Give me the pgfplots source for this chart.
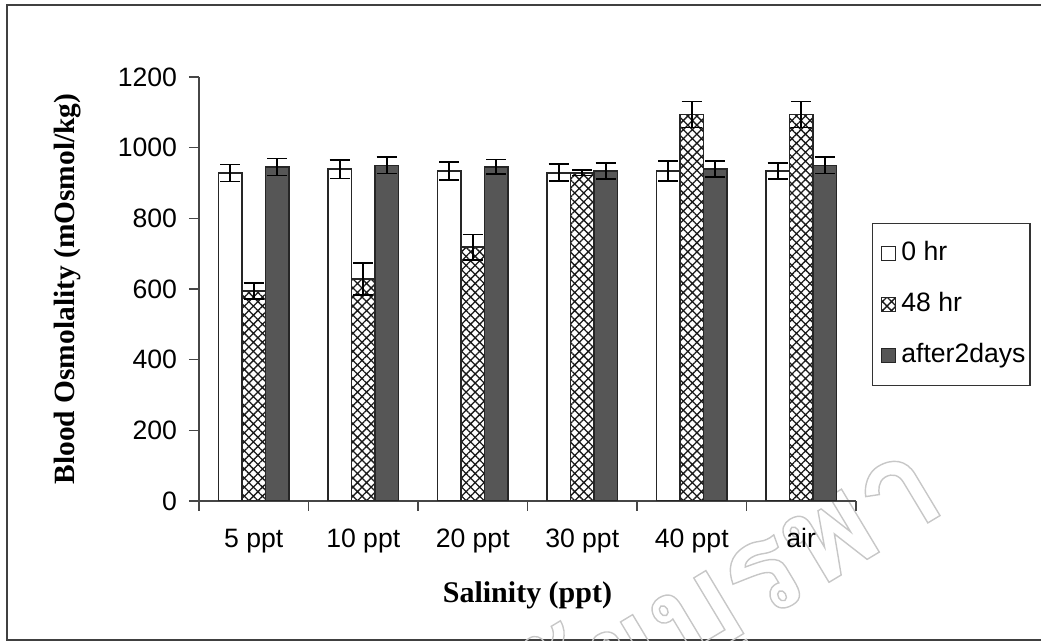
\documentclass[border=0pt]{standalone}
\usepackage{fontspec}
\setmainfont{Liberation Serif}
\setsansfont{Liberation Sans}
\newfontfamily\thaifont[Script=Thai]{Loma}
\usepackage{pgfplots}
\usepackage{pgfplotstable}
\pgfplotsset{compat=1.18}
\usetikzlibrary{patterns.meta}

\definecolor{darkbar}{RGB}{86,86,86}
\definecolor{axisgray}{RGB}{70,70,70}

% blood osmolality (mOsmol/kg), mean and error per salinity
\pgfplotstableread{
x  hr0  e0  hr48  e48  d2   ed2
0  928  24  594   23   945  24
1  939  26  628   45   950  23
2  934  26  718   36   946  20
3  929  24  929    8   934  23
4  934  29  1094  37   940  23
5  934  23  1094  37   950  23
}\osmo

\newcommand{\sfsize}{\sffamily\fontsize{13.3}{16}\selectfont}

\begin{document}
\begin{tikzpicture}[x=1pt,y=1pt]
\useasboundingbox (-99.5,-70) rectangle (421,250.5);
\draw[line width=0.8pt, color=black!75] (421,248) -- (-96,248) -- (-96,-69.5) -- (421,-69.5);
% watermark
\node[rotate=31, anchor=base east, inner sep=0pt] at (376,-4)
  {\thaifont\bfseries\fontsize{66}{66}\selectfont\special{pdf:literal direct q 1 Tr 0.7 w 0.78 G}มหาวิทยาลัยบูรพา\special{pdf:literal direct Q}};
\begin{axis}[
  at={(0,0)}, anchor=south west,
  scale only axis, width=328.5pt, height=212pt,
  ybar=0pt, bar width=11.75pt,
  xmin=-0.5, xmax=5.5, ymin=0, ymax=1200,
  axis x line*=bottom, axis y line*=left,
  axis line style={line width=0.6pt, color=axisgray, -},
  tick align=outside, major tick length=5pt,
  tick style={line width=0.6pt, color=axisgray},
  xtick={-0.5,0.5,...,5.5}, xticklabels={},
  extra x ticks={0,1,2,3,4,5},
  extra x tick labels={5 ppt,10 ppt,20 ppt,30 ppt,40 ppt,air},
  extra x tick style={major tick length=0pt},
  xticklabel style={font=\sfsize, anchor=base, yshift=-23.5pt},
  ytick={0,200,...,1200},
  yticklabel style={font=\sfsize, xshift=-2.5pt},
  /pgf/number format/assume math mode=true,
  /pgf/number format/set thousands separator={},
  xlabel={Salinity (ppt)},
  ylabel={Blood Osmolality (mOsmol/kg)},
  every axis x label/.style={at={(axis description cs:0.5,0)}, yshift=-51pt, anchor=base,
    font=\bfseries\fontsize{15}{17}\selectfont},
  every axis y label/.style={at={(axis description cs:0,0.5)}, xshift=-65.5pt, rotate=90, anchor=center,
    font=\bfseries\fontsize{14.7}{17}\selectfont},
  legend cell align=left,
  legend style={at={(rel axis cs:1.0243,0.656)}, anchor=north west,
    draw=black!80, line width=0.6pt, font=\sfsize,
    inner xsep=1.2pt, inner ysep=7pt, row sep=9.5pt,
    nodes={inner xsep=1pt, text height=9.5pt, text depth=2.5pt}},
  every axis plot post/.append style={
    legend image code/.code={\path (0pt,0pt) (11.4pt,0pt);
      \draw[##1, line width=0.5pt] (3pt,-3.4pt) rectangle (9.8pt,3.4pt);}},
  error bars/error bar style={line width=0.8pt, black},
  error bars/error mark options={rotate=90, mark size=5pt, line width=0.8pt, black},
]
\addplot[fill=white, draw=black!85, line width=0.8pt,
  error bars/.cd, y dir=both, y explicit]
  table[x=x, y=hr0, y error=e0] {\osmo};
\addplot[pattern={Hatch[angle=45, distance=3.2pt, line width=0.65pt]}, pattern color=black!90,
  draw=black!85, line width=0.8pt,
  error bars/.cd, y dir=both, y explicit]
  table[x=x, y=hr48, y error=e48] {\osmo};
\addplot[fill=darkbar, draw=black!85, line width=0.8pt,
  error bars/.cd, y dir=both, y explicit]
  table[x=x, y=d2, y error=ed2] {\osmo};
\legend{0 hr, 48 hr, after2days}
\end{axis}
\end{tikzpicture}
\end{document}
